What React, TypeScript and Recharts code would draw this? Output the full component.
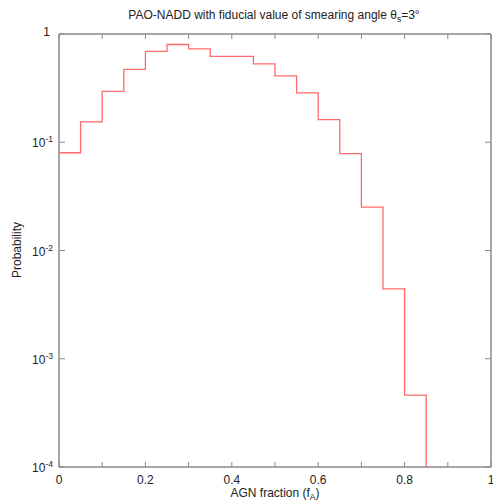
import { LineChart, Line, XAxis, YAxis } from "recharts";

// histogram bins: left edge of each bin and its probability
const binEdges = [0, 0.05, 0.1, 0.15, 0.2, 0.25, 0.3, 0.35, 0.4, 0.45, 0.5, 0.55, 0.6, 0.65, 0.7, 0.75, 0.8, 0.85];
const probabilities = [0.08, 0.154, 0.295, 0.471, 0.69, 0.8, 0.73, 0.62, 0.62, 0.53, 0.41, 0.286, 0.162, 0.0786, 0.0252, 0.00442, 0.000461, 0.0001];

const xTicks = [0, 0.1, 0.2, 0.3, 0.4, 0.5, 0.6, 0.7, 0.8, 0.9, 1];
const xLabelled = [0, 0.2, 0.4, 0.6, 0.8, 1];
const yTicks = [0.0001, 0.001, 0.01, 0.1, 1];
const yExponents = [-4, -3, -2, -1, 0];

const data = binEdges.map((x, i) => ({ x, p: probabilities[i] }));

const AXIS = "#8a8a8a";
const TEXT = "#222";
const FONT = "'Liberation Sans', Arial, sans-serif";

const BottomTick = (props: any) => {
  const { x, y, payload } = props;
  const v = payload.value;
  const show = xLabelled.some((t) => Math.abs(t - v) < 1e-9);
  return (
    <g>
      <line x1={x} x2={x} y1={y} y2={y - 5} stroke={AXIS} strokeWidth={1} />
      {show && (
        <text x={x} y={y + 17} textAnchor="middle" fontSize={12} fill={TEXT} fontFamily={FONT}>
          {String(v)}
        </text>
      )}
    </g>
  );
};

const TopTick = (props: any) => {
  const { x, y } = props;
  return <line x1={x} x2={x} y1={y} y2={y + 5} stroke={AXIS} strokeWidth={1} />;
};

const LeftTick = (props: any) => {
  const { x, y, index } = props;
  const e = yExponents[index];
  return (
    <g>
      <line x1={x} x2={x + 6} y1={y} y2={y} stroke={AXIS} strokeWidth={1} />
      {e === 0 ? (
        <text x={x - 9} y={y + 2} textAnchor="end" fontSize={12} fill={TEXT} fontFamily={FONT}>
          1
        </text>
      ) : (
        <text x={x - 6} y={y + 5} textAnchor="end" fontSize={12} fill={TEXT} fontFamily={FONT}>
          10
          <tspan fontSize={8.5} dy={-5}>{String(e)}</tspan>
        </text>
      )}
    </g>
  );
};

const RightTick = (props: any) => {
  const { x, y } = props;
  return <line x1={x} x2={x - 6} y1={y} y2={y} stroke={AXIS} strokeWidth={1} />;
};

export default function App() {
  return (
    <div style={{ position: "absolute", left: 0, top: 0, width: 493, height: 504, background: "#fff" }}>
      <LineChart width={493} height={504} data={data} margin={{ top: 33, right: 1, left: 0, bottom: 0 }}>
        <text x={274} y={19} textAnchor="middle" fontSize={12} fill={TEXT} fontFamily={FONT}>
          PAO-NADD with fiducial value of smearing angle θ
          <tspan fontSize={8.5} dy={3}>s</tspan>
          <tspan dy={-3}>=3°</tspan>
        </text>
        <text x={275} y={497} textAnchor="middle" fontSize={12} fill={TEXT} fontFamily={FONT}>
          AGN fraction (f
          <tspan fontSize={8.5} dy={3}>A</tspan>
          <tspan dy={-3}>)</tspan>
        </text>
        <text
          x={21}
          y={250}
          textAnchor="middle"
          fontSize={12}
          fill={TEXT}
          fontFamily={FONT}
          transform="rotate(-90 21 250)"
        >
          Probability
        </text>
        <XAxis
          dataKey="x"
          type="number"
          domain={[0, 1]}
          ticks={xTicks}
          interval={0}
          height={37}
          tickSize={0}
          tickMargin={0}
          tickLine={false}
          tick={<BottomTick />}
          axisLine={{ stroke: AXIS, strokeWidth: 1.5 }}
        />
        <XAxis
          xAxisId="top"
          orientation="top"
          dataKey="x"
          type="number"
          domain={[0, 1]}
          ticks={xTicks}
          interval={0}
          height={1}
          tickSize={0}
          tickMargin={0}
          tickLine={false}
          tick={<TopTick />}
          axisLine={{ stroke: AXIS, strokeWidth: 1.5 }}
        />
        <YAxis
          scale="log"
          domain={[0.0001, 1]}
          ticks={yTicks}
          interval={0}
          allowDataOverflow
          width={59}
          tickSize={0}
          tickMargin={0}
          tickLine={false}
          tick={<LeftTick />}
          axisLine={{ stroke: AXIS, strokeWidth: 1.5 }}
        />
        <YAxis
          yAxisId="right"
          orientation="right"
          scale="log"
          domain={[0.0001, 1]}
          ticks={yTicks}
          interval={0}
          allowDataOverflow
          width={1}
          tickSize={0}
          tickMargin={0}
          tickLine={false}
          tick={<RightTick />}
          axisLine={{ stroke: AXIS, strokeWidth: 1.5 }}
        />
        <Line
          type="stepAfter"
          dataKey="p"
          stroke="#ff6b6b"
          strokeWidth={1.3}
          dot={false}
          isAnimationActive={false}
        />
      </LineChart>
    </div>
  );
}
